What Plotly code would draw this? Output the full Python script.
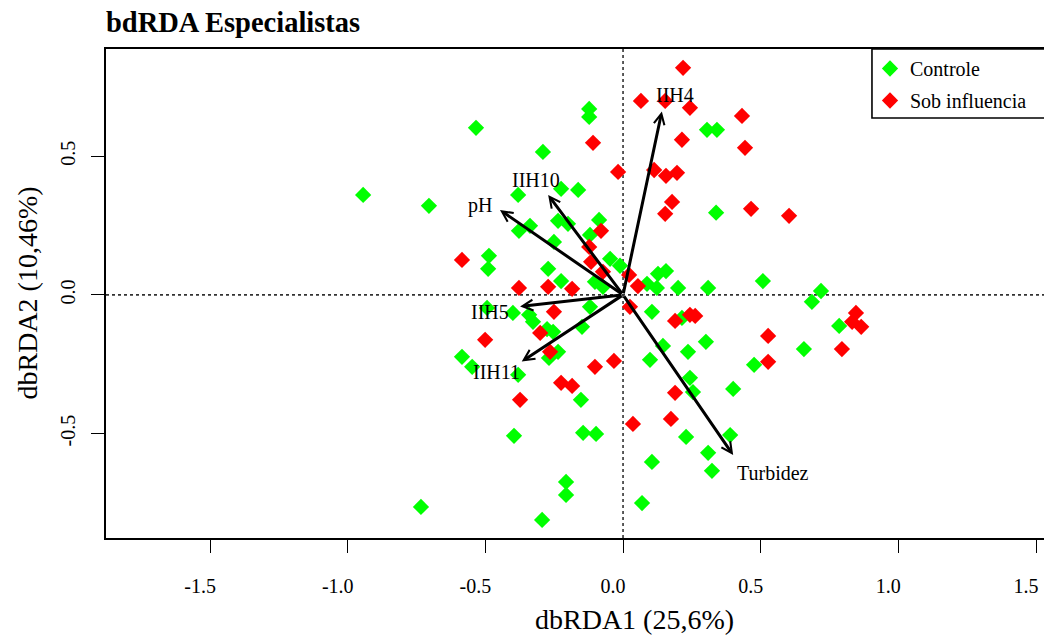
import plotly.graph_objects as go

# ---- data (site scores) ----
controle_x = [-0.123, -0.123, -0.534, -0.291, -0.944, -0.705, -0.381, -0.225, -0.163, 0.305,
              0.341, 0.338, -0.338, -0.378, -0.236, -0.200, -0.087, -0.251, -0.120, -0.487,
              -0.490, -0.272, -0.225, -0.047, -0.011, -0.102, -0.073, 0.127, 0.156, 0.087,
              0.123, 0.200, 0.309, 0.508, 0.719, 0.686, -0.494, -0.400, -0.341, -0.327,
              -0.120, -0.276, -0.254, -0.149, 0.105, 0.214, 0.785, -0.585, -0.548, -0.381,
              -0.269, -0.236, 0.098, 0.145, 0.301, 0.236, 0.476, 0.657, 0.243, 0.254,
              0.400, -0.153, -0.396, -0.145, -0.098, 0.229, 0.389, 0.309, 0.105, 0.323,
              -0.207, -0.207, -0.734, -0.294, 0.069]
controle_y = [0.670, 0.641, 0.602, 0.515, 0.360, 0.321, 0.360, 0.382, 0.378, 0.595,
              0.595, 0.296, 0.249, 0.231, 0.267, 0.256, 0.270, 0.191, 0.216, 0.141,
              0.094, 0.094, 0.050, 0.130, 0.105, 0.047, 0.029, 0.076, 0.086, 0.040,
              0.025, 0.025, 0.025, 0.050, 0.014, -0.025, -0.047, -0.065, -0.072, -0.097,
              -0.043, -0.123, -0.133, -0.115, -0.061, -0.083, -0.112, -0.223, -0.259, -0.288,
              -0.227, -0.205, -0.234, -0.184, -0.169, -0.205, -0.252, -0.195, -0.299, -0.350,
              -0.339, -0.378, -0.508, -0.497, -0.501, -0.512, -0.505, -0.569, -0.602, -0.634,
              -0.674, -0.721, -0.764, -0.811, -0.750]

sob_x = [0.218, 0.065, 0.153, 0.243, 0.432, 0.214, 0.443, -0.109, -0.018, 0.113,
         0.156, 0.196, 0.178, 0.153, 0.465, 0.603, -0.080, -0.123, -0.116, -0.073,
         -0.585, -0.378, -0.272, -0.185, 0.022, 0.054, 0.025, -0.251, -0.301, -0.501,
         -0.265, -0.102, -0.033, -0.225, -0.185, -0.374, 0.036, 0.189, 0.243, 0.262,
         0.527, 0.527, 0.189, 0.174, 0.846, 0.832, 0.865, 0.795]
sob_y = [0.818, 0.699, 0.699, 0.674, 0.645, 0.559, 0.530, 0.548, 0.443, 0.450,
         0.429, 0.440, 0.335, 0.292, 0.310, 0.285, 0.231, 0.173, 0.119, 0.083,
         0.126, 0.025, 0.029, 0.022, 0.072, 0.032, -0.043, -0.061, -0.137, -0.162,
         -0.205, -0.259, -0.238, -0.317, -0.328, -0.378, -0.465, -0.094, -0.072, -0.076,
         -0.148, -0.241, -0.353, -0.447, -0.065, -0.097, -0.115, -0.195]

# ---- environmental vectors ----
vec_names = ["IIH4", "IIH10", "pH", "IIH5", "IIH11", "Turbidez"]
vec_x = [0.141, -0.272, -0.447, -0.374, -0.368, 0.400]
vec_y = [0.661, 0.360, 0.306, -0.042, -0.240, -0.577]
lab_x = [0.189, -0.316, -0.519, -0.483, -0.458, 0.545]
lab_y = [0.721, 0.414, 0.321, -0.061, -0.277, -0.641]

x_ticks = [-1.5, -1.0, -0.5, 0.0, 0.5, 1.0, 1.5]
x_tick_labels = ["-1.5", "-1.0", "-0.5", "0.0", "0.5", "1.0", "1.5"]
y_ticks = [-0.5, 0.0, 0.5]
y_tick_labels = ["-0.5", "0.0", "0.5"]

FONT = "Liberation Serif"

fig = go.Figure()
fig.add_trace(go.Scatter(
    x=controle_x, y=controle_y, mode="markers", name="Controle",
    marker=dict(symbol="diamond", size=12.5, color="#00FF00", line=dict(width=0)),
    legendgroup="a"))
fig.add_trace(go.Scatter(
    x=sob_x, y=sob_y, mode="markers", name="Sob influencia",
    marker=dict(symbol="diamond", size=12.5, color="#FF0000", line=dict(width=0)),
    legendgroup="b"))

annotations = []
for n, vx, vy, tx, ty in zip(vec_names, vec_x, vec_y, lab_x, lab_y):
    annotations.append(dict(
        x=vx, y=vy, ax=0, ay=0, xref="x", yref="y", axref="x", ayref="y",
        text="", showarrow=True, arrowhead=5, arrowsize=0.7, arrowwidth=3,
        arrowcolor="black", standoff=0, startstandoff=0))
    annotations.append(dict(
        x=tx, y=ty, xref="x", yref="y", text=n, showarrow=False,
        xanchor="center", yanchor="middle",
        font=dict(family=FONT, size=20, color="black")))

annotations.append(dict(
    x=0.563, y=0, xref="paper", yref="paper", yshift=-81, text="dbRDA1 (25,6%)",
    showarrow=False, xanchor="center", yanchor="middle",
    font=dict(family=FONT, size=28, color="black")))
annotations.append(dict(
    x=-0.0842, y=0.5, xref="paper", yref="paper", text="dbRDA2 (10,46%)",
    textangle=-90, showarrow=False, xanchor="center", yanchor="middle",
    font=dict(family=FONT, size=28, color="black")))

shapes = [
    dict(type="line", xref="x", yref="paper", x0=0, x1=0, y0=0, y1=1,
         line=dict(color="#333333", width=1.6, dash="dot"), layer="below"),
    dict(type="line", xref="paper", yref="y", x0=0, x1=1, y0=0, y1=0,
         line=dict(color="#333333", width=1.6, dash="dot"), layer="below"),
    dict(type="rect", xref="paper", yref="paper", x0=0.8166, x1=1.01, y0=1, y1=0.859,
         line=dict(color="black", width=1.6), fillcolor="white", layer="below"),
]

fig.update_layout(
    width=1044, height=637,
    margin=dict(l=106, r=0, t=49, b=99, autoexpand=False),
    paper_bgcolor="white", plot_bgcolor="rgba(0,0,0,0)",
    title=dict(text="<b>bdRDA Especialistas</b>", x=0, xref="paper", xanchor="left",
               y=1 - 22 / 637, yref="container", yanchor="middle",
               font=dict(family=FONT, size=28.5, color="black")),
    showlegend=True,
    legend=dict(x=0.8145, xanchor="left", y=1, yanchor="top", bgcolor="rgba(0,0,0,0)",
                borderwidth=0, font=dict(family=FONT, size=20, color="black"),
                traceorder="grouped", tracegroupgap=3),
    annotations=annotations, shapes=shapes,
    hovermode=False,
)
fig.update_xaxes(
    range=[-1.878, 1.529], tickvals=x_ticks, ticktext=x_tick_labels,
    showgrid=False, zeroline=False, showline=True, linecolor="black", linewidth=1.6,
    mirror=True, ticks="outside", ticklen=13, tickwidth=1.3, tickcolor="black",
    tickfont=dict(family=FONT, size=20, color="black"), ticklabelshift=-10,
    ticklabelstandoff=16)
fig.update_yaxes(
    range=[-0.876, 0.886], tickvals=y_ticks, ticktext=y_tick_labels, tickangle=-90,
    showgrid=False, zeroline=False, showline=True, linecolor="black", linewidth=1.6,
    mirror=False, ticks="outside", ticklen=13, tickwidth=1.3, tickcolor="black",
    tickfont=dict(family=FONT, size=20, color="black"), ticklabelstandoff=8)

fig.write_html("out.html", config={"displayModeBar": False})
